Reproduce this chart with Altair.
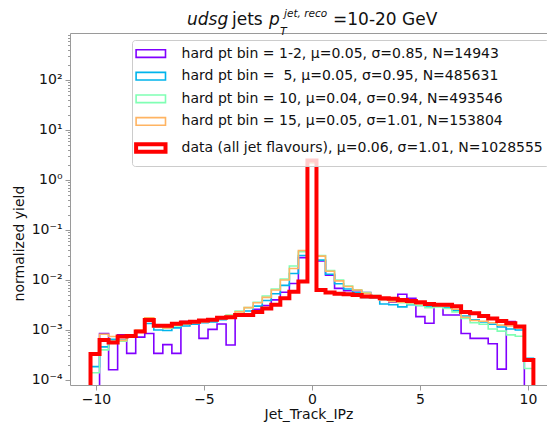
import altair as alt
import numpy as np
import pandas as pd

# ---- data ----
bin_lo, bin_hi, n_bins = -10.25, 10.25, 49
edges = list(np.linspace(bin_lo, bin_hi, n_bins + 1))

labels = [
    "hard pt bin = 1-2, μ=0.05, σ=0.85, N=14943",
    "hard pt bin =\u00a0 5, μ=0.05, σ=0.95, N=485631",
    "hard pt bin = 10, μ=0.04, σ=0.94, N=493546",
    "hard pt bin = 15, μ=0.05, σ=1.01, N=153804",
    "data (all jet flavours), μ=0.06, σ=1.01, N=1028555",
]
colors = ["#8000ff", "#00b4eb", "#80ffb4", "#ffb462", "#ff0000"]
widths = [1.6, 1.6, 1.6, 1.6, 4.0]

purple = [0, 8.5e-4, 1.6e-4, 8.0e-4, 3.4e-4, 7.2e-4, 8.5e-4, 3.4e-4, 5.1e-4, 3.4e-4,
          1.47e-3, 1.47e-3, 6.8e-4, 1.03e-3, 1.32e-3, 5.0e-4, 1.9e-3, 2.1e-3, 2.6e-3, 3.1e-3,
          4.0e-3, 5.7e-3, 8.5e-3, 2.8e-2, 2.25, 2.4e-2, 1.25e-2, 6.8e-3, 6.1e-3, 6.1e-3,
          5.6e-3, 4.8e-3, 4.0e-3, 3.6e-3, 5.2e-3, 4.3e-3, 1.85e-3, 1.36e-3, 3.3e-3, 2.0e-3,
          2.0e-3, 8.5e-4, 6.8e-4, 6.8e-4, 5.3e-4, 1.65e-4, 1.47e-3, 1.17e-3, 0]
cyan = [1.85e-4, 4.6e-4, 6.5e-4, 6.3e-4, 7.5e-4, 9.5e-4, 1.35e-3, 1.0e-3, 9.8e-4, 1.1e-3,
        1.2e-3, 1.3e-3, 1.4e-3, 1.45e-3, 1.6e-3, 1.75e-3, 2.0e-3, 2.4e-3, 3.0e-3, 3.9e-3,
        5.3e-3, 7.8e-3, 1.35e-2, 3.1e-2, 2.2, 2.5e-2, 1.3e-2, 8.4e-3, 6.6e-3, 5.6e-3,
        4.5e-3, 4.4e-3, 3.3e-3, 3.2e-3, 2.9e-3, 3.2e-3, 3.1e-3, 3.0e-3, 3.0e-3, 2.8e-3,
        2.5e-3, 1.9e-3, 1.6e-3, 1.45e-3, 1.3e-3, 1.15e-3, 1.05e-3, 1.0e-3, 2.7e-4]
green = [1.4e-4, 4.0e-4, 6.0e-4, 6.0e-4, 7.2e-4, 9.5e-4, 1.5e-3, 1.15e-3, 1.1e-3, 1.2e-3,
         1.3e-3, 1.4e-3, 1.5e-3, 1.55e-3, 1.75e-3, 2.0e-3, 2.4e-3, 2.8e-3, 3.6e-3, 4.8e-3,
         6.6e-3, 1.05e-2, 1.9e-2, 3.7e-2, 2.2, 3.1e-2, 1.55e-2, 1.0e-2, 7.6e-3, 6.4e-3,
         5.6e-3, 4.9e-3, 4.1e-3, 3.8e-3, 3.5e-3, 3.3e-3, 3.1e-3, 2.8e-3, 2.9e-3, 2.7e-3,
         2.3e-3, 1.7e-3, 1.4e-3, 1.3e-3, 1.05e-3, 9.5e-4, 8.0e-4, 7.5e-4, 1.7e-4]
orange = [3.3e-4, 8.2e-4, 7.4e-4, 6.2e-4, 7.6e-4, 1.0e-3, 1.75e-3, 1.2e-3, 1.1e-3, 1.25e-3,
          1.35e-3, 1.4e-3, 1.45e-3, 1.6e-3, 1.7e-3, 1.95e-3, 2.3e-3, 2.8e-3, 3.5e-3, 4.5e-3,
          6.3e-3, 1.0e-2, 1.7e-2, 3.9e-2, 2.2, 3.0e-2, 1.5e-2, 9.6e-3, 7.4e-3, 6.3e-3,
          5.4e-3, 4.8e-3, 4.0e-3, 3.7e-3, 3.6e-3, 3.5e-3, 3.3e-3, 3.4e-3, 3.3e-3, 3.0e-3,
          2.6e-3, 1.8e-3, 1.55e-3, 1.5e-3, 1.4e-3, 1.25e-3, 1.2e-3, 1.1e-3, 2.5e-4]
red = [3.3e-4, 6.3e-4, 5.6e-4, 7.4e-4, 7.6e-4, 9.3e-4, 1.58e-3, 1.22e-3, 1.22e-3, 1.33e-3,
       1.42e-3, 1.46e-3, 1.55e-3, 1.6e-3, 1.75e-3, 1.8e-3, 2.0e-3, 2.0e-3, 2.3e-3, 2.7e-3,
       3.2e-3, 4.3e-3, 5.8e-3, 9.3e-3, 2.45, 6.3e-3, 5.6e-3, 5.3e-3, 5.2e-3, 5.0e-3,
       4.7e-3, 4.6e-3, 4.3e-3, 4.2e-3, 4.0e-3, 3.8e-3, 3.6e-3, 3.3e-3, 3.2e-3, 3.2e-3,
       3.0e-3, 2.3e-3, 2.15e-3, 1.9e-3, 1.7e-3, 1.52e-3, 1.36e-3, 1.17e-3, 2.5e-4]
series = [purple, cyan, green, orange, red]

x_ticks = [-10, -5, 0, 5, 10]
y_major = [1e-4, 1e-3, 1e-2, 1e-1, 1e0, 1e1, 1e2]

FLOOR = 1e-7  # stands in for empty bins (off the bottom of the log axis)

rows = []
for lab, vals in zip(labels, series):
    pts = [(edges[0], FLOOR)]
    pts += [(edges[k], v if v > 0 else FLOOR) for k, v in enumerate(vals)]
    pts += [(edges[-1], FLOOR)]
    for i, (x, y) in enumerate(pts):
        rows.append({"series": lab, "i": i, "x": x, "y": y})
df = pd.DataFrame(rows)

y_ticks = [m * d for d in y_major[:-1] for m in range(1, 10)] + [y_major[-1]] + [m * 100 for m in range(2, 9)]

W, H = 477, 352
FONT = "DejaVu Sans"
GRAY = "#9a9a9a"

x_scale = alt.Scale(domain=[-11.2, 10.88], nice=False, zero=False)
y_scale = alt.Scale(type="log", domain=[7.94e-5, 871], nice=False)

sup_expr = ("abs(log(datum.value)/LN10 - round(log(datum.value)/LN10)) < 0.001 ? "
            "['10⁻⁴','10⁻³','10⁻²','10⁻¹','10⁰','10¹','10²'][round(log(datum.value)/LN10)+4] : ''")
major_test = "abs(log(datum.value)/LN10 - round(log(datum.value)/LN10)) < 0.001"

legend = alt.Legend(
    title=None, orient="none", legendX=62, legendY=7,
    symbolType="M-1.5,-0.54H2.7V0.54H-1.5Z", symbolSize=196, symbolFillColor="transparent",
    labelFont=FONT, labelFontSize=14.0, labelColor="#111", labelLimit=0, labelOffset=26,
    fillColor="rgba(255,255,255,0.8)", strokeColor="#cccccc", cornerRadius=3,
    padding=5.6, rowPadding=7.6,
)

lines = alt.Chart(df).mark_line(
    interpolate="step-after", clip=True, strokeJoin="miter", strokeCap="butt"
).encode(
    x=alt.X("x:Q", scale=x_scale, axis=alt.Axis(
        values=x_ticks, title="Jet_Track_IPz", grid=False, labelFont=FONT, labelFontSize=14,
        labelColor="#111", tickColor=GRAY, tickSize=5, domainColor=GRAY, titleFont=FONT,
        titleFontSize=14, titleFontWeight="normal", titleColor="#111", titlePadding=1)),
    y=alt.Y("y:Q", scale=y_scale, axis=alt.Axis(
        values=y_ticks, labelExpr=sup_expr, title="normalized yield", grid=False,
        labelFont=FONT, labelFontSize=14, labelColor="#111", tickColor=GRAY,
        tickSize={"condition": {"test": major_test, "value": 5}, "value": 2.5},
        labelPadding=3, domainColor=GRAY, titleFont=FONT, titleFontSize=14,
        titleFontWeight="normal", titleColor="#111", titleX=-51, titleY=210,
        titleBaseline="middle", titleAlign="center", titleAngle=270)),
    color=alt.Color("series:N", sort=labels,
                    scale=alt.Scale(type="ordinal", domain=labels, range=colors), legend=legend),
    strokeWidth=alt.StrokeWidth("series:N", sort=labels,
                                scale=alt.Scale(type="ordinal", domain=labels, range=widths),
                                legend=legend),
    order="i:Q",
)

top_frame = alt.Chart(df.head(1)).mark_point(opacity=0).encode(
    x=alt.X("x:Q", scale=x_scale, axis=alt.Axis(
        orient="top", labels=False, ticks=False, title=None, grid=False, domainColor=GRAY)),
)

def txt(t, x, y, size=17, style="normal"):
    return alt.Chart(pd.DataFrame({"t": [t]})).mark_text(
        align="left", baseline="alphabetic", font=FONT, fontSize=size,
        fontStyle=style, color="#111"
    ).encode(x=alt.value(x), y=alt.value(y), text="t:N")

title_parts = [
    txt("udsg", 117, -8, 17, "italic"),
    txt("jets", 162, -8, 17),
    txt("p", 199, -8, 17, "italic"),
    txt("T", 210, 2, 11, "italic"),
    txt("jet, reco", 214, -16, 10.5, "italic"),
    txt("=10-20 GeV", 263, -8, 17),
]

chart = alt.layer(lines, top_frame, *title_parts).resolve_axis(x="independent").properties(
    width=W, height=H,
    autosize=alt.AutoSizeParams(type="none"),
    padding={"left": 70, "top": 33, "right": 0, "bottom": 38},
    background="white",
).configure_view(stroke=None)

chart.save("out.html", embed_options={"renderer": "svg", "actions": False})
